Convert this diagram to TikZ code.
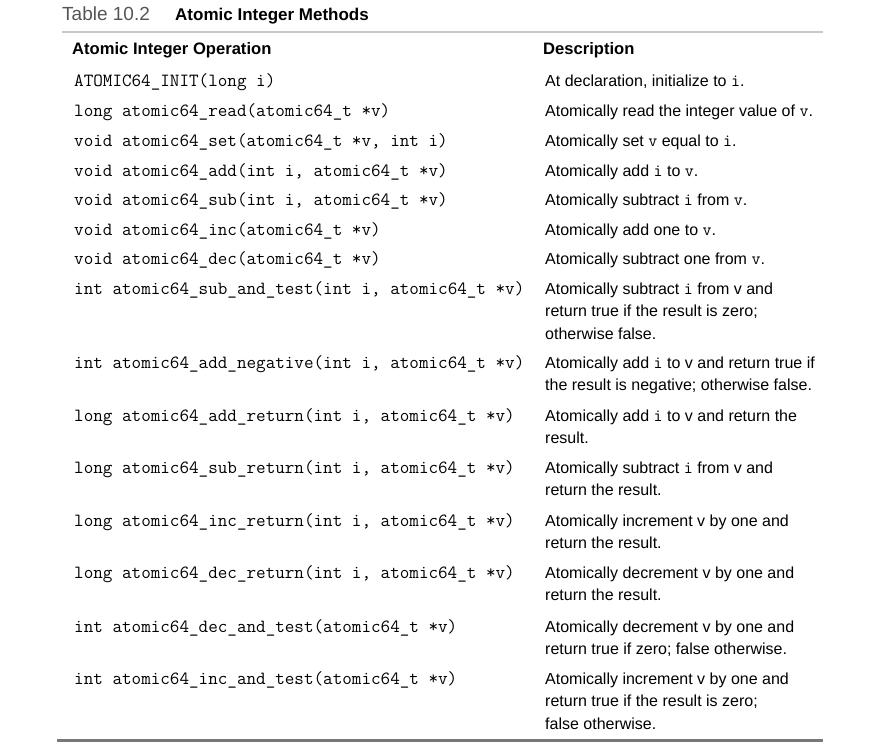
\documentclass[tikz,border=0pt]{standalone}
\usepackage{fontspec}
\setmainfont{Liberation Sans}
\usepackage{tikz}
\usetikzlibrary{positioning}
\definecolor{captioncolor}{RGB}{85, 85, 85}
\definecolor{toprulecolor}{RGB}{200, 200, 200}
\definecolor{bottomrulecolor}{RGB}{120, 120, 120}
\newcommand{\cd}[1]{{\fontsize{17.5}{22.5}\selectfont\ttfamily #1}}
\newcommand{\descrows}[1]{\begin{tabular}[t]{@{}l@{}}#1\end{tabular}}

\begin{document}
\begin{tikzpicture}[
    x=1pt, y=-1pt,
    caption/.style={anchor=base west, inner sep=0pt, font=\fontsize{19}{22}\selectfont},
    head/.style={anchor=base west, inner sep=0pt, font=\fontsize{16.6}{20}\selectfont\bfseries},
    op/.style={anchor=base west, inner sep=0pt, font=\fontsize{18.6}{22.5}\selectfont\ttfamily},
    desc/.style={anchor=base west, inner sep=0pt, font=\fontsize{16}{22.5}\selectfont}
]
    \useasboundingbox (0,0) rectangle (883,748);

    % Caption
    \node[caption, text=captioncolor] (tabno) at (62, 20) {Table 10.2};
    \node[caption, font=\fontsize{17}{20}\selectfont\bfseries] (tabtitle) at (175, 20) {Atomic Integer Methods};

    % Rules
    \coordinate (topl) at (62, 32);
    \coordinate (topr) at (823, 32);
    \coordinate (botl) at (57, 740);
    \coordinate (botr) at (823, 740);
    \draw[toprulecolor, line width=1.5pt] (topl) -- (topr);
    \draw[bottomrulecolor, line width=3pt] (botl) -- (botr);

    % Header
    \node[head] (hop) at (72, 54) {Atomic Integer Operation};
    \node[head] (hdesc) at (543, 54) {Description};

    % Operations
    \node[op] (init) at (74, 86) {ATOMIC64\_INIT(long i)};
    \node[op] (read) at (74, 116) {long atomic64\_read(atomic64\_t *v)};
    \node[op] (set) at (74, 146) {void atomic64\_set(atomic64\_t *v, int i)};
    \node[op] (add) at (74, 176) {void atomic64\_add(int i, atomic64\_t *v)};
    \node[op] (sub) at (74, 205) {void atomic64\_sub(int i, atomic64\_t *v)};
    \node[op] (inc) at (74, 235) {void atomic64\_inc(atomic64\_t *v)};
    \node[op] (dec) at (74, 264) {void atomic64\_dec(atomic64\_t *v)};
    \node[op] (subtest) at (74, 294) {int atomic64\_sub\_and\_test(int i, atomic64\_t *v)};
    \node[op] (addneg) at (74, 368) {int atomic64\_add\_negative(int i, atomic64\_t *v)};
    \node[op] (addret) at (74, 421) {long atomic64\_add\_return(int i, atomic64\_t *v)};
    \node[op] (subret) at (74, 473) {long atomic64\_sub\_return(int i, atomic64\_t *v)};
    \node[op] (incret) at (74, 526) {long atomic64\_inc\_return(int i, atomic64\_t *v)};
    \node[op] (decret) at (74, 578) {long atomic64\_dec\_return(int i, atomic64\_t *v)};
    \node[op] (dectest) at (74, 632) {int atomic64\_dec\_and\_test(atomic64\_t *v)};
    \node[op] (inctest) at (74, 684) {int atomic64\_inc\_and\_test(atomic64\_t *v)};

    % Descriptions
    \node[desc] (dinit) at (545, 86) {At declaration, initialize to \cd{i}.};
    \node[desc] (dread) at (545, 116) {Atomically read the integer value of \cd{v}.};
    \node[desc] (dset) at (545, 146) {Atomically set \cd{v} equal to \cd{i}.};
    \node[desc] (dadd) at (545, 176) {Atomically add \cd{i} to \cd{v}.};
    \node[desc] (dsub) at (545, 205) {Atomically subtract \cd{i} from \cd{v}.};
    \node[desc] (dinc) at (545, 235) {Atomically add one to \cd{v}.};
    \node[desc] (ddec) at (545, 264) {Atomically subtract one from \cd{v}.};
    \node[desc] (dsubtest) at (545, 294) {\descrows{Atomically subtract \cd{i} from v and\\return true if the result is zero;\\otherwise false.}};
    \node[desc] (daddneg) at (545, 368) {\descrows{Atomically add \cd{i} to v and return true if\\the result is negative; otherwise false.}};
    \node[desc] (daddret) at (545, 421) {\descrows{Atomically add \cd{i} to v and return the\\result.}};
    \node[desc] (dsubret) at (545, 473) {\descrows{Atomically subtract \cd{i} from v and\\return the result.}};
    \node[desc] (dincret) at (545, 526) {\descrows{Atomically increment v by one and\\return the result.}};
    \node[desc] (ddecret) at (545, 578) {\descrows{Atomically decrement v by one and\\return the result.}};
    \node[desc] (ddectest) at (545, 632) {\descrows{Atomically decrement v by one and\\return true if zero; false otherwise.}};
    \node[desc] (dinctest) at (545, 684) {\descrows{Atomically increment v by one and\\return true if the result is zero;\\false otherwise.}};

\end{tikzpicture}
\end{document}
